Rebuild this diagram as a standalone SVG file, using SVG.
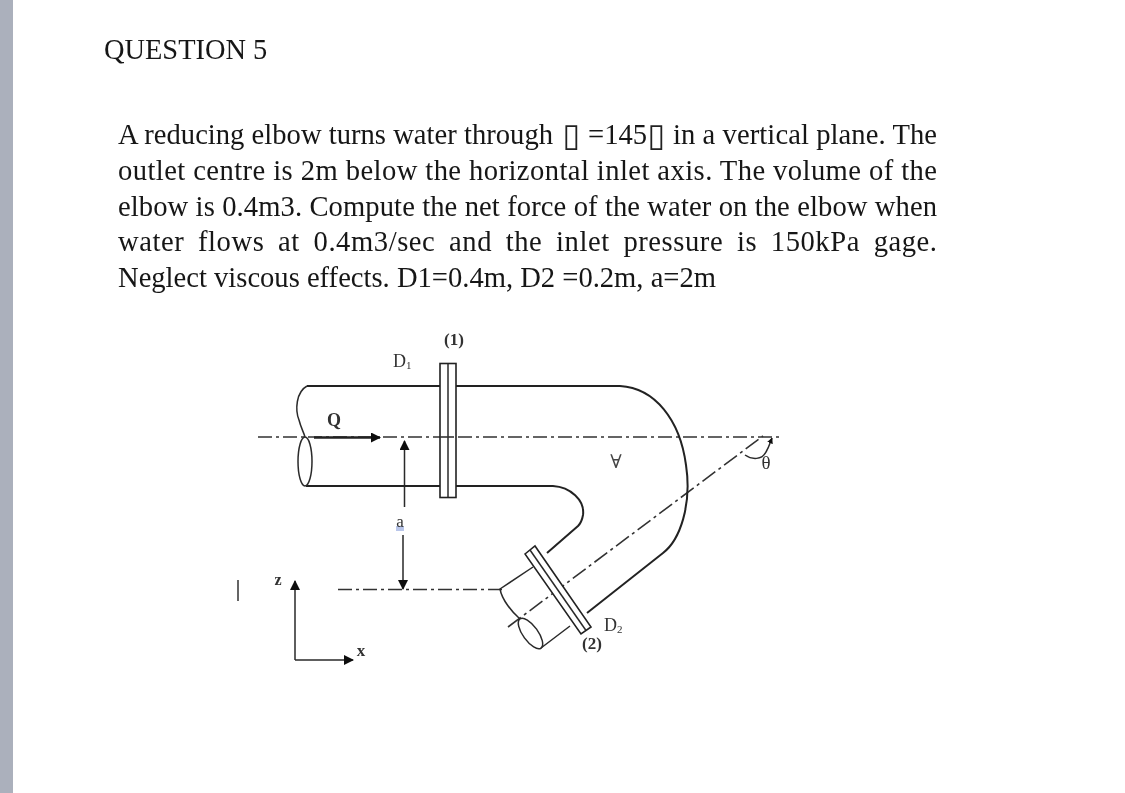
<svg xmlns="http://www.w3.org/2000/svg" width="1125" height="793" viewBox="0 0 1125 793">
<style>
.t{font-family:"Liberation Serif","Times New Roman",serif;font-size:28.6px;fill:#161616}
.q{font-size:28.4px}
.b{font-family:"DejaVu Sans",sans-serif;font-size:32px;fill:#222}
.s{font-family:"Liberation Serif","Times New Roman",serif;fill:#333}
.bd{font-weight:bold}
.l{fill:none;stroke:#2a2a2a;stroke-width:1.5}
.h{fill:none;stroke:#222;stroke-width:2}
.c{fill:none;stroke:#333;stroke-width:1.6;stroke-dasharray:14 4 3 4}
.f{fill:#fff;stroke:#222;stroke-width:1.6}
</style>
<defs>
<filter id="soft" filterUnits="userSpaceOnUse" x="0" y="0" width="1125" height="793"><feGaussianBlur stdDeviation="0.45"/></filter>
<marker id="a" viewBox="0 0 10 10" refX="9" refY="5" markerWidth="10" markerHeight="10" markerUnits="userSpaceOnUse" orient="auto"><path d="M0 0L10 5L0 10z" fill="#111"/></marker>
<marker id="sm" viewBox="0 0 10 10" refX="9" refY="5" markerWidth="6" markerHeight="6" markerUnits="userSpaceOnUse" orient="auto"><path d="M0 0L10 5L0 10z" fill="#111"/></marker>
</defs>
<rect width="1125" height="793" fill="#fff"/>
<rect width="13" height="793" fill="#abb0bc"/>
<g filter="url(#soft)">
<g id="question-text">
<text class="t q" x="104" y="59">QUESTION 5</text>
<text class="t" x="118" y="144" textLength="435">A reducing elbow turns water through</text>
<text class="b" x="562.500" y="146">▯</text>
<text class="t" x="588" y="144">=145</text>
<text class="b" x="647.500" y="146">▯</text>
<text class="t" x="673" y="144" textLength="264">in a vertical plane. The</text>
<text class="t" x="118" y="180" textLength="819">outlet centre is 2m below the horizontal inlet axis. The volume of the</text>
<text class="t" x="118" y="216" textLength="819">elbow is 0.4m3. Compute the net force of the water on the elbow when</text>
<text class="t" x="118" y="251" textLength="819" style="word-spacing:6px">water flows at 0.4m3/sec and the inlet pressure is 150kPa gage.</text>
<text class="t" x="118" y="287" textLength="598">Neglect viscous effects. D1=0.4m, D2 =0.2m, a=2m</text>
</g>
<g id="connectors">
<path class="c" d="M258 437H782"/>
<path class="c" d="M338 589.500H502"/>
<path class="c" d="M508 627L763 436" style="stroke-dasharray:16 4 3 4"/>
<path class="h" d="M314 437.500H380" marker-end="url(#a)" style="stroke-width:2.400"/>
<path class="l" d="M404.500 507V441" marker-end="url(#a)"/>
<path class="l" d="M403 535V589" marker-end="url(#a)"/>
<path class="l" d="M295 660V581" marker-end="url(#a)"/>
<path class="l" d="M295 660H353" marker-end="url(#a)"/>
<path class="l" d="M745 455C752 460 762 460 766 452C769 447 770 443 772 438" marker-end="url(#sm)"/>
</g>
<g id="elbow">
<path class="h" d="M307 386H440M456 386H620C655 388 680 420 686 465C692 505 680 540 663 553L587 613"/>
<path class="h" d="M306 486H440M456 486H553C570 487 585 500 583 515C582 521 580 524 578 526L547 553"/>
<path class="l" d="M533 567L500 589C502 600 512 612 520 619M541 648L570 626"/>
<path class="l" d="M307 386C296 392 295 410 299 420C301 428 304 433 305 437"/>
<ellipse class="l" cx="305" cy="461.500" rx="7" ry="24.500"/>
<ellipse class="l" cx="530.500" cy="633.500" rx="18" ry="7.500" transform="rotate(54 530.500 633.500)"/>
</g>
<g id="flange-1">
<rect class="f" x="440" y="363.500" width="16" height="134"/>
<path class="l" d="M448 363.500V497.500"/>
<path class="c" d="M440 437H456"/>
</g>
<g id="flange-2">
<path class="f" d="M525 554L535 546L591 627L581 634Z"/>
<path class="l" d="M530 550L586 630.500"/>
</g>
<g id="labels">
<text class="s bd" x="454" y="345" font-size="17" text-anchor="middle">(1)</text>
<text class="s" x="393" y="367" font-size="18">D<tspan font-size="11" dy="2">1</tspan></text>
<text class="s bd" x="334" y="426" font-size="18" text-anchor="middle">Q</text>
<rect x="396" y="526" width="8" height="5" fill="#b9c6ea"/>
<text class="s" x="400" y="527" font-size="17" text-anchor="middle">a</text>
<text class="s bd" x="278" y="585" font-size="16" text-anchor="middle">z</text>
<text class="s bd" x="361" y="656" font-size="17" text-anchor="middle">x</text>
<text class="s" x="604" y="631" font-size="18">D<tspan font-size="11" dy="2">2</tspan></text>
<text class="s bd" x="592" y="649" font-size="17" text-anchor="middle">(2)</text>
<text class="s" x="766" y="469" font-size="19" text-anchor="middle">θ</text>
<text x="616" y="468" font-size="19" text-anchor="middle" fill="#444" font-family="'DejaVu Serif',serif">∀</text>
</g>
<path id="cursor" d="M238 580V601" stroke="#333" stroke-width="1.500" fill="none"/>
</g>
</svg>
